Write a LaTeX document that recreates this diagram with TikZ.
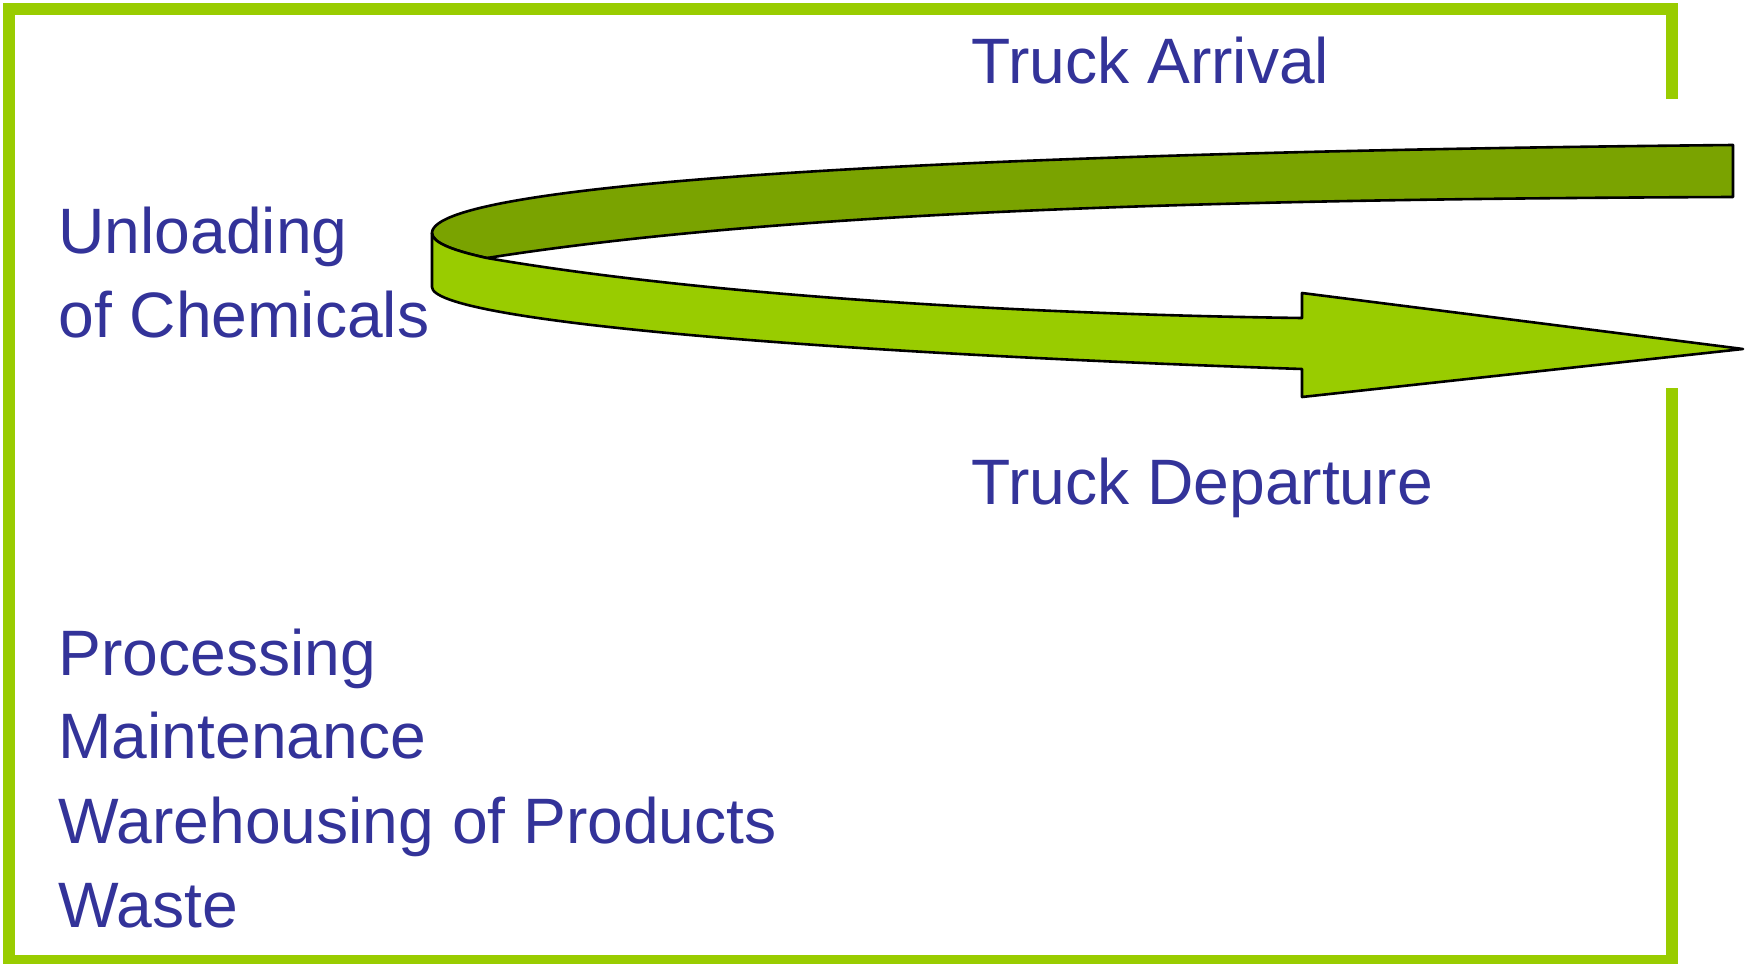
\documentclass[tikz,border=0pt]{standalone}
\usepackage{fontspec}
\setmainfont{Liberation Sans}

\definecolor{textblue}{RGB}{51,51,153}
\definecolor{framegreen}{RGB}{153,204,0}
\definecolor{banddark}{RGB}{122,163,0}

\begin{document}
\begin{tikzpicture}[
        x=0.5pt, y=-0.5pt,
        font=\fontsize{32.1}{42}\selectfont,
        label text/.style={text=textblue, anchor=base west, inner sep=0pt},
        frame line/.style={draw=framegreen, line width=6pt, line join=miter},
        band/.style={draw=black, line width=1.3pt, line join=round}
        ]
            \useasboundingbox (0,0) rectangle (1753,964);

            % Rahmen
            \draw [frame line] (1672,99) -- (1672,9) -- (8.7,9) -- (8.7,961)
                               -- (1672,961) -- (1672,388);

            % Eckpunkte des Bandes
            \coordinate (B1) at (432,233);
            \coordinate (B2) at (487,258);
            \coordinate (B3) at (432,287);

            % oberes Band
            \filldraw [band, fill=banddark]
                    (1733,145) .. controls (1000,152) and (432,180) .. (B1)
                    .. controls (432,243) and (455,251) .. (B2)
                    .. controls (780,212) and (1200,199) .. (1733,197) -- cycle;

            % unteres Band mit Spitze
            \filldraw [band, fill=framegreen]
                    (B1) .. controls (432,243) and (455,251) .. (B2)
                    .. controls (690,293) and (1000,314) .. (1302,318)
                    -- (1302,293) -- (1743,349) -- (1302,397) -- (1302,369)
                    .. controls (800,352) and (432,320) .. (B3) -- cycle;

            % Beschriftung
            \node [label text] (arrival)   at (971,83)  {Truck Arrival};
            \node [label text] (departure) at (971,504) {Truck Departure};
            \node [label text] (unload)    at (58,253)  {Unloading};
            \node [label text] (chem)      at (58,337)  {of Chemicals};
            \node [label text] (proc)      at (58,675)  {Processing};
            \node [label text] (maint)     at (58,758)  {Maintenance};
            \node [label text] (wareh)     at (58,843)  {Warehousing of Products};
            \node [label text] (waste)     at (58,927)  {Waste};

        \end{tikzpicture}
\end{document}
